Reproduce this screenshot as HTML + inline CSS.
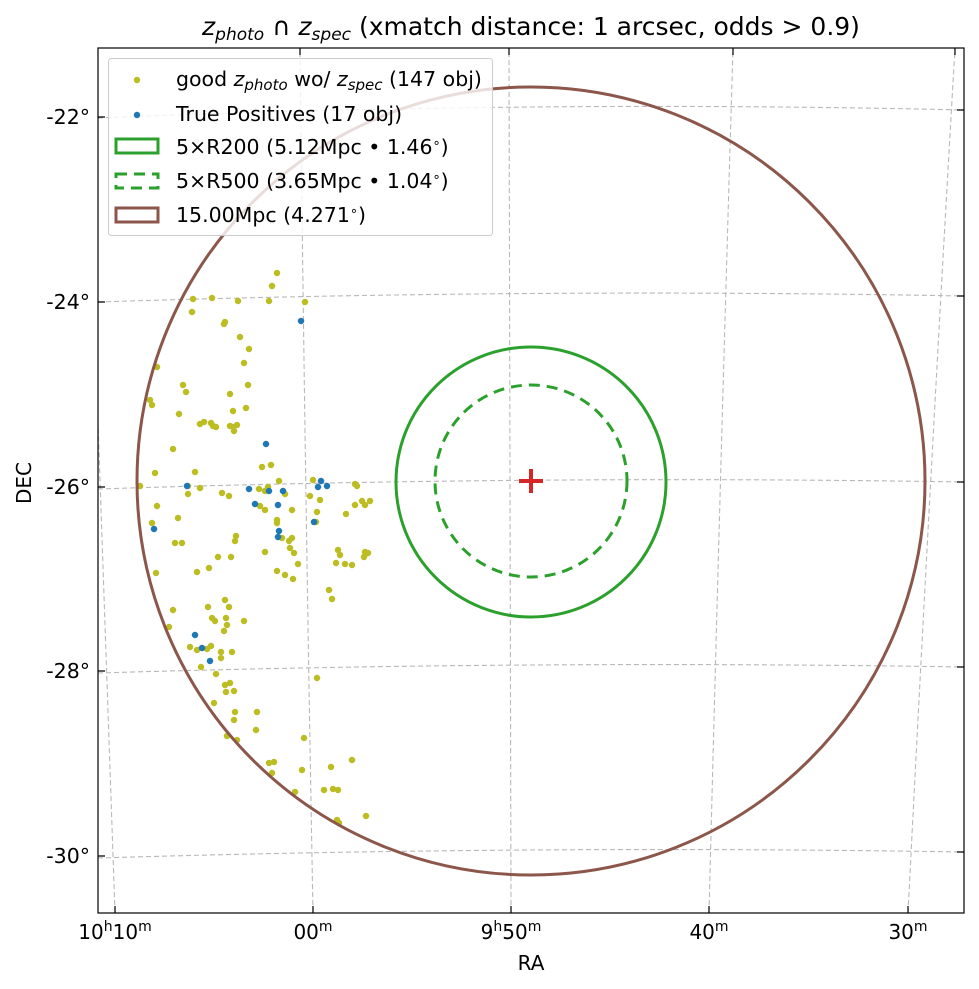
<!DOCTYPE html><html><head><meta charset="utf-8"><style>
body{margin:0;background:#fff;}
svg{display:block;font-family:"DejaVu Sans","Liberation Sans",sans-serif;}
</style></head><body>
<svg width="979" height="989" viewBox="0 0 979 989" xmlns="http://www.w3.org/2000/svg">
<rect width="979" height="989" fill="#fff"/>
<defs><clipPath id="c"><rect x="98" y="48" width="866" height="865"/></clipPath></defs>
<g clip-path="url(#c)" fill="none" stroke="#b8b8b8" stroke-width="1.1" stroke-dasharray="5,3">
<path d="M98,118 Q531,100 964,110"/>
<path d="M98,302 Q531,288 964,296"/>
<path d="M98,489 Q531,475 964,482"/>
<path d="M98,673 Q531,660 964,667"/>
<path d="M98,858 Q531,845 964,852"/>
<path d="M115,913 L85,48"/>
<path d="M313,913 Q305,480 300,48"/>
<path d="M511,913 L509,48"/>
<path d="M709,913 Q720,480 733,48"/>
<path d="M908,913 Q930,480 955,48"/>
</g>
<g clip-path="url(#c)" fill="none" stroke-linecap="round" stroke-width="6.5">
<path stroke="#bcbd22" d="M277,273h0M272,286h0M193,299h0M212,298h0M238,301h0M269,301h0M305,302h0M192,312h0M224,324h0M225,322h0M240,337h0M249,349h0M244,363h0M157,367h0M186,392h0M150,400h0M152,405h0M179,414h0M230,394h0M233,411h0M246,408h0M200,424h0M204,422h0M211,423h0M213,426h0M216,427h0M230,426h0M233,427h0M234,431h0M237,425h0M173,449h0M155,473h0M195,472h0M262,467h0M271,465h0M140,486h0M188,486h0M200,488h0M188,494h0M222,493h0M229,496h0M259,489h0M268,487h0M265,491h0M279,481h0M285,494h0M313,480h0M310,496h0M320,500h0M355,484h0M357,486h0M370,501h0M365,505h0M157,506h0M152,523h0M178,518h0M260,506h0M265,510h0M277,520h0M277,523h0M292,510h0M317,512h0M346,514h0M355,505h0M362,501h0M316,522h0M282,538h0M289,541h0M175,543h0M182,543h0M236,536h0M235,541h0M292,538h0M218,557h0M231,557h0M265,552h0M290,548h0M294,553h0M298,564h0M338,550h0M340,555h0M365,552h0M368,553h0M345,564h0M336,563h0M364,557h0M352,565h0M156,573h0M197,572h0M209,568h0M277,571h0M285,575h0M293,579h0M329,590h0M332,599h0M173,610h0M225,600h0M208,607h0M229,607h0M212,618h0M226,618h0M215,621h0M227,625h0M244,621h0M169,627h0M224,631h0M190,647h0M197,650h0M207,649h0M211,646h0M221,652h0M232,652h0M221,658h0M201,667h0M216,674h0M317,678h0M230,683h0M225,685h0M234,691h0M214,703h0M226,692h0M235,712h0M234,720h0M257,712h0M256,730h0M227,736h0M237,740h0M269,763h0M274,762h0M272,773h0M304,738h0M302,770h0M295,792h0M324,790h0M333,789h0M338,790h0M331,767h0M352,760h0M366,816h0M337,820h0M339,823h0M183,385h0M248,385h0"/>
<path stroke="#1f77b4" d="M301,321h0M266,444h0M187,486h0M249,489h0M269,491h0M283,491h0M255,504h0M278,505h0M154,529h0M321,481h0M318,487h0M327,486h0M314,522h0M279,531h0M278,537h0M195,635h0M202,648h0M210,661h0"/>
</g>
<g clip-path="url(#c)" fill="none">
<circle cx="531" cy="481" r="394" stroke="#8c564b" stroke-width="3"/>
<circle cx="531" cy="482" r="135" stroke="#2ca02c" stroke-width="3"/>
<circle cx="531" cy="481" r="96" stroke="#2ca02c" stroke-width="3" stroke-dasharray="11,7"/>
<path d="M519,481H543M531,469V493" stroke="#d62728" stroke-width="4"/>
</g>
<rect x="98" y="48" width="866" height="865" fill="none" stroke="#000" stroke-width="1.2"/>
<g stroke="#000" stroke-width="1.2">
<path d="M98,117h7M98,302h7M98,487h7M98,671h7M98,856h7"/>
<path d="M964,110h-7M964,296h-7M964,482h-7M964,667h-7M964,852h-7"/>
<path d="M115,913v-7M313,913v-7M511,913v-7M709,913v-7M908,913v-7"/>
<path d="M300,48v7M509,48v7M733,48v7M955,48v7"/>
</g>
<g font-size="20.5" fill="#000" text-anchor="end">
<text x="90" y="124">-22°</text><text x="90" y="309">-24°</text><text x="90" y="494">-26°</text><text x="90" y="678">-28°</text><text x="90" y="863">-30°</text>
</g>
<g font-size="20" fill="#000" text-anchor="middle">
<text x="115" y="939">10<tspan font-size="14" dy="-8">h</tspan><tspan dy="8">10</tspan><tspan font-size="14" dy="-8">m</tspan></text>
<text x="313" y="939">00<tspan font-size="14" dy="-8">m</tspan></text>
<text x="511" y="939">9<tspan font-size="14" dy="-8">h</tspan><tspan dy="8">50</tspan><tspan font-size="14" dy="-8">m</tspan></text>
<text x="709" y="939">40<tspan font-size="14" dy="-8">m</tspan></text>
<text x="908" y="939">30<tspan font-size="14" dy="-8">m</tspan></text>
<text x="531" y="970">RA</text>
<text transform="translate(31,483) rotate(-90)">DEC</text>
<text x="531" y="35" font-size="25"><tspan font-style="italic">z</tspan><tspan font-style="italic" font-size="17" dy="5">photo</tspan><tspan dy="-5"> ∩ </tspan><tspan font-style="italic">z</tspan><tspan font-style="italic" font-size="17" dy="5">spec</tspan><tspan dy="-5"> (xmatch distance: 1 arcsec, odds &gt; 0.9)</tspan></text>
</g>
<rect x="108.5" y="58.5" width="384" height="177" rx="3" fill="#fff" fill-opacity="0.8" stroke="#ccc"/>
<circle cx="137" cy="80" r="3.2" fill="#bcbd22"/>
<circle cx="137" cy="115" r="3.2" fill="#1f77b4"/>
<rect x="116" y="139" width="42" height="14" fill="none" stroke="#2ca02c" stroke-width="3"/>
<rect x="116" y="174" width="42" height="14" fill="none" stroke="#2ca02c" stroke-width="3" stroke-dasharray="11,7"/>
<rect x="116" y="208" width="42" height="14" fill="none" stroke="#8c564b" stroke-width="3"/>
<g font-size="20.5" fill="#000">
<text x="176" y="86">good <tspan font-style="italic">z</tspan><tspan font-style="italic" font-size="15" dy="4">photo</tspan><tspan dy="-4"> wo/ </tspan><tspan font-style="italic">z</tspan><tspan font-style="italic" font-size="15" dy="4">spec</tspan><tspan dy="-4"> (147 obj)</tspan></text>
<text x="176" y="121">True Positives (17 obj)</text>
<text x="176" y="154">5×R200 (5.12Mpc • 1.46<tspan font-size="13" dy="-7">∘</tspan><tspan dy="7">)</tspan></text>
<text x="176" y="188">5×R500 (3.65Mpc • 1.04<tspan font-size="13" dy="-7">∘</tspan><tspan dy="7">)</tspan></text>
<text x="176" y="222">15.00Mpc (4.271<tspan font-size="13" dy="-7">∘</tspan><tspan dy="7">)</tspan></text>
</g>
</svg>
</body></html>
